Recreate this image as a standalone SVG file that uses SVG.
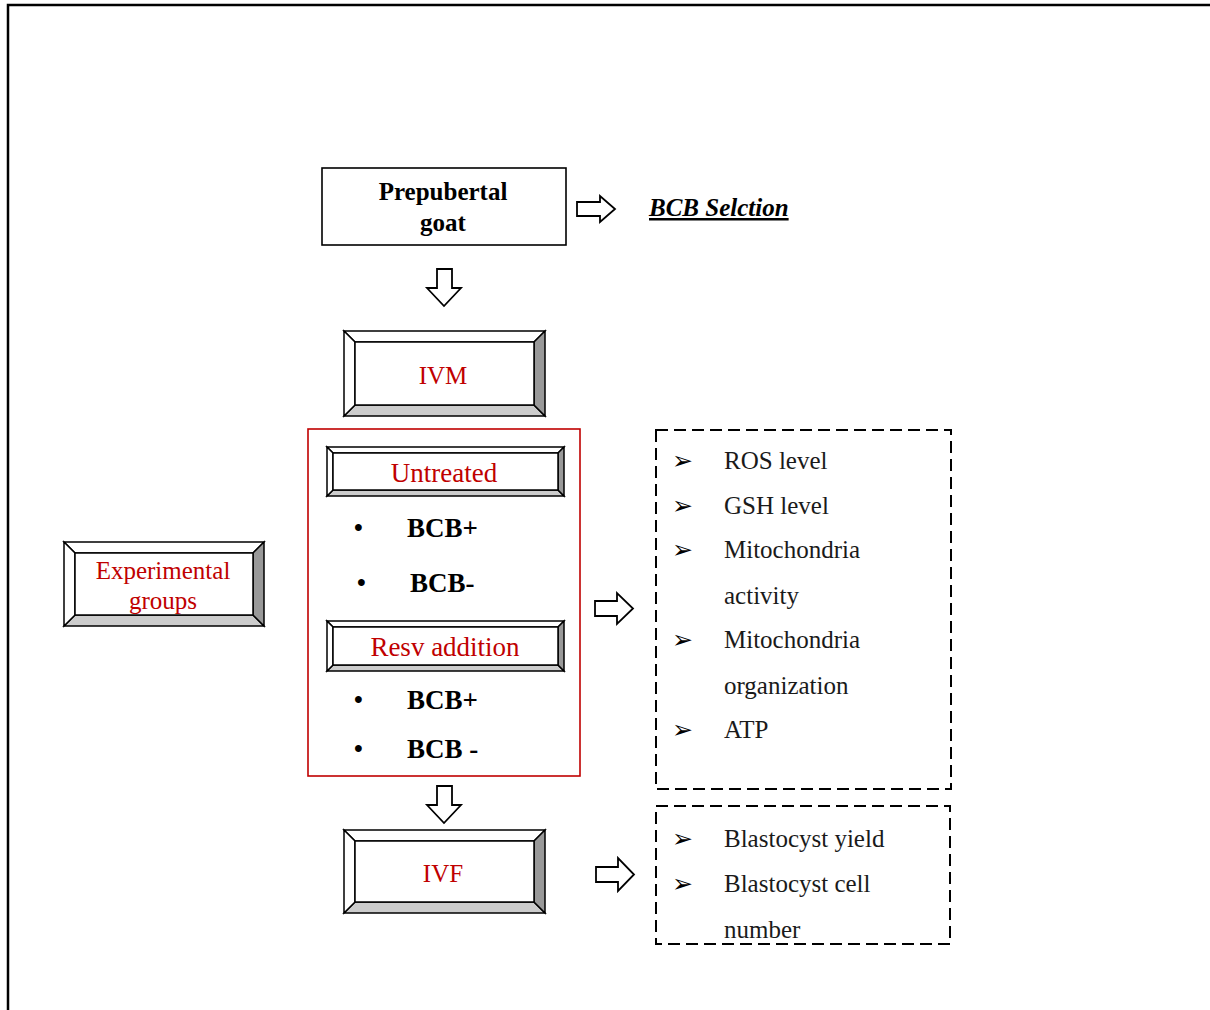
<svg xmlns="http://www.w3.org/2000/svg" width="1210" height="1010" viewBox="0 0 1210 1010">
<style>
.frame{fill:none;stroke:#000;stroke-width:2.5}
.plain{fill:#fff;stroke:#000;stroke-width:1.6}
.bt{fill:#fff;stroke:#000;stroke-width:1.5;stroke-linejoin:miter}
.bb{fill:#cccccc;stroke:#000;stroke-width:1.5}
.br{fill:#999999;stroke:#000;stroke-width:1.5}
.in{fill:#fff;stroke:#000;stroke-width:1.5}
.arrow{fill:#fff;stroke:#000;stroke-width:1.8;stroke-linejoin:miter}
.redbox{fill:none;stroke:#c00000;stroke-width:1.6}
.dash{fill:none;stroke:#000;stroke-width:2;stroke-dasharray:12 6}
.red{font-family:"Liberation Serif","Times New Roman",serif;font-size:25px;fill:#c00000;text-anchor:middle}
.red27{font-size:27px}
.bold{font-family:"Liberation Serif","Times New Roman",serif;font-size:25px;font-weight:bold;fill:#000}
.bcb{font-size:27px}
.reg{font-family:"Liberation Serif","Times New Roman",serif;font-size:25px;fill:#1a1a1a}
.bul{font-family:"DejaVu Sans",sans-serif;font-size:25px;fill:#000}
</style>
<rect x="8" y="5" width="1230" height="1020" class="frame"/>

<g id="prepubertal">
<rect x="322" y="168" width="244" height="77" class="plain"/>
<text x="443" y="200" class="bold" text-anchor="middle">Prepubertal</text>
<text x="443" y="231" class="bold" text-anchor="middle">goat</text>
</g>

<g id="bcb-selection">
<text x="649" y="216" class="bold" font-style="italic" text-decoration="underline">BCB Selction</text>
</g>

<g id="ivm">
<polygon class="bt" points="344,331 545,331 534,342 355,342"/>
<polygon class="bb" points="344,416 545,416 534,405 355,405"/>
<polygon class="bt" points="344,331 355,342 355,405 344,416"/>
<polygon class="br" points="545,331 545,416 534,405 534,342"/>
<rect x="355" y="342" width="179" height="63" class="in"/>
<text x="443" y="384" class="red">IVM</text>
</g>

<g id="experimental-groups">
<polygon class="bt" points="64,542 264,542 253,553 75,553"/>
<polygon class="bb" points="64,626 264,626 253,615 75,615"/>
<polygon class="bt" points="64,542 75,553 75,615 64,626"/>
<polygon class="br" points="264,542 264,626 253,615 253,553"/>
<rect x="75" y="553" width="178" height="62" class="in"/>
<text x="163" y="579" class="red">Experimental</text>
<text x="163" y="609" class="red">groups</text>
</g>

<g id="treatment-group">
<rect x="308" y="429" width="272" height="347" class="redbox"/>
<g id="untreated">
<polygon class="bt" points="327,447 564,447 558,453 333,453"/>
<polygon class="bb" points="327,496 564,496 558,490 333,490"/>
<polygon class="bt" points="327,447 333,453 333,490 327,496"/>
<polygon class="br" points="564,447 564,496 558,490 558,453"/>
<rect x="333" y="453" width="225" height="37" class="in"/>
<text x="444" y="482" class="red red27">Untreated</text>
</g>
<text x="354" y="536" class="bold">•</text>
<text x="407" y="537" class="bold bcb">BCB+</text>
<text x="357" y="591" class="bold">•</text>
<text x="410" y="592" class="bold bcb">BCB-</text>
<g id="resv-addition">
<polygon class="bt" points="327,621 564,621 558,627 333,627"/>
<polygon class="bb" points="327,671 564,671 558,665 333,665"/>
<polygon class="bt" points="327,621 333,627 333,665 327,671"/>
<polygon class="br" points="564,621 564,671 558,665 558,627"/>
<rect x="333" y="627" width="225" height="38" class="in"/>
<text x="445" y="656" class="red red27">Resv addition</text>
</g>
<text x="354" y="708" class="bold">•</text>
<text x="407" y="709" class="bold bcb">BCB+</text>
<text x="354" y="757" class="bold">•</text>
<text x="407" y="758" class="bold bcb">BCB -</text>
</g>

<g id="oocyte-parameters">
<rect x="656" y="430" width="295" height="359" class="dash"/>
<text x="672" y="469" class="bul">➢</text>
<text x="724" y="469" class="reg">ROS level</text>
<text x="672" y="514" class="bul">➢</text>
<text x="724" y="514" class="reg">GSH level</text>
<text x="672" y="558" class="bul">➢</text>
<text x="724" y="558" class="reg">Mitochondria</text>
<text x="724" y="604" class="reg">activity</text>
<text x="672" y="648" class="bul">➢</text>
<text x="724" y="648" class="reg">Mitochondria</text>
<text x="724" y="694" class="reg">organization</text>
<text x="672" y="738" class="bul">➢</text>
<text x="724" y="738" class="reg">ATP</text>
</g>

<g id="ivf">
<polygon class="bt" points="344,830 545,830 534,841 355,841"/>
<polygon class="bb" points="344,913 545,913 534,902 355,902"/>
<polygon class="bt" points="344,830 355,841 355,902 344,913"/>
<polygon class="br" points="545,830 545,913 534,902 534,841"/>
<rect x="355" y="841" width="179" height="61" class="in"/>
<text x="443" y="882" class="red">IVF</text>
</g>

<g id="embryo-parameters">
<rect x="656" y="806" width="294" height="138" class="dash"/>
<text x="672" y="847" class="bul">➢</text>
<text x="724" y="847" class="reg">Blastocyst yield</text>
<text x="672" y="892" class="bul">➢</text>
<text x="724" y="892" class="reg">Blastocyst cell</text>
<text x="724" y="938" class="reg">number</text>
</g>

<g id="connectors">
<path class="arrow" d="M577,202 H600 V196 L615,209 L600,222 V216 H577 Z"/>
<path class="arrow" d="M437,269 H452 V288 H461 L444,306 L427,288 H437 Z"/>
<path class="arrow" d="M595,601 H617 V593 L633,608.5 L617,624 V616 H595 Z"/>
<path class="arrow" d="M437,786 H452 V805 H461 L444,823 L427,805 H437 Z"/>
<path class="arrow" d="M596,867 H618 V858 L634,874.5 L618,891 V882 H596 Z"/>
</g>
</svg>
